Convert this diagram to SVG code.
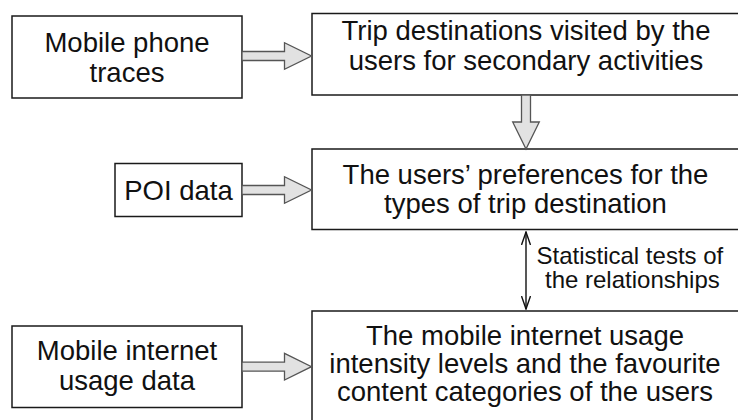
<svg xmlns="http://www.w3.org/2000/svg" width="738" height="420" viewBox="0 0 738 420">
<defs>
<style>
.box{fill:#ffffff;stroke:#1a1a1a;stroke-width:1.5}
.t{font-family:"Liberation Sans",Arial,Helvetica,sans-serif;font-size:27.5px;fill:#111;text-anchor:middle}
.s{font-family:"Liberation Sans",Arial,Helvetica,sans-serif;font-size:24px;fill:#111;text-anchor:start}
.block{fill:#e2e2e2;stroke:#555;stroke-width:1.3;stroke-linejoin:miter}
.thin{fill:none;stroke:#111;stroke-width:1.4}
</style>
<marker id="open" viewBox="0 0 14 10" refX="13" refY="5" markerWidth="14" markerHeight="10" markerUnits="userSpaceOnUse" orient="auto-start-reverse">
<path d="M0,0.5 L13,5 L0,9.5" fill="none" stroke="#111" stroke-width="1.4"/>
</marker>
</defs>
<rect width="738" height="420" fill="#ffffff"/>

<g id="node-mobile-phone-traces">
<rect class="box" x="12" y="16" width="230" height="82"/>
<text class="t" x="127" y="51.5">Mobile phone</text>
<text class="t" x="127" y="81.5">traces</text>
</g>

<g id="node-trip-destinations">
<rect class="box" x="312" y="13.5" width="440" height="81.5"/>
<text class="t" x="526" y="39.5">Trip destinations visited by the</text>
<text class="t" x="526" y="69.5">users for secondary activities</text>
</g>

<g id="node-poi-data">
<rect class="box" x="115" y="163.5" width="127" height="53"/>
<text class="t" x="178.5" y="199.5">POI data</text>
</g>

<g id="node-preferences">
<rect class="box" x="312" y="149" width="440" height="80.5"/>
<text class="t" x="525.5" y="184">The users’ preferences for the</text>
<text class="t" x="525.5" y="213.3">types of trip destination</text>
</g>

<g id="node-mobile-internet-data">
<rect class="box" x="12" y="326" width="230" height="81.5"/>
<text class="t" x="127" y="360">Mobile internet</text>
<text class="t" x="127" y="390">usage data</text>
</g>

<g id="node-usage-intensity">
<rect class="box" x="312" y="311" width="440" height="120"/>
<text class="t" x="525" y="345">The mobile internet usage</text>
<text class="t" x="525" y="373">intensity levels and the favourite</text>
<text class="t" x="525" y="401">content categories of the users</text>
</g>

<g id="connectors">
<path class="block" d="M242,51.5 H284.5 V42.7 L311.5,56 L284.5,69.3 V60.5 H242 Z"/>
<path class="block" d="M242,185.5 H284.5 V176.7 L311.5,190 L284.5,203.3 V194.5 H242 Z"/>
<path class="block" d="M242,362.2 H284.5 V353.4 L311.5,366.7 L284.5,380 V371.2 H242 Z"/>
<path class="block" d="M521.5,95 V122 H512.7 L526,149 L539.3,122 H530.5 V95 Z"/>
<line class="thin" x1="526" y1="232" x2="526" y2="309" marker-start="url(#open)" marker-end="url(#open)"/>
<text class="s" x="536.5" y="264">Statistical tests of</text>
<text class="s" x="545" y="288.3">the relationships</text>
</g>
</svg>
